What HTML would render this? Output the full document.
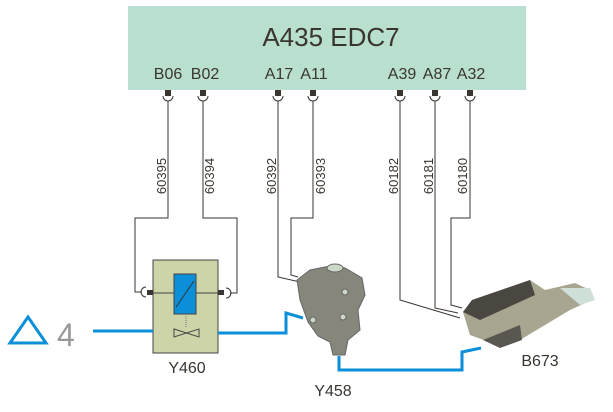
<!DOCTYPE html>
<html><head><meta charset="utf-8"><style>
html,body{margin:0;padding:0;background:#fff;}
svg{display:block;font-family:"Liberation Sans",sans-serif;}
</style></head><body>
<svg width="613" height="412" viewBox="0 0 613 412" xmlns="http://www.w3.org/2000/svg">
<rect x="128" y="6" width="398" height="84" fill="#b9dfcf"/>
<text x="331" y="46" font-size="26" fill="#3a3530" text-anchor="middle">A435 EDC7</text>
<g font-size="16" fill="#3a3530" text-anchor="middle">
<text x="168" y="79">B06</text><text x="205" y="79">B02</text>
<text x="279" y="79">A17</text><text x="314" y="79">A11</text>
<text x="402" y="79">A39</text><text x="437" y="79">A87</text><text x="471" y="79">A32</text>
</g>
<g fill="#3a3530">
<rect x="165" y="90" width="6" height="6"/><rect x="200" y="90" width="6" height="6"/>
<rect x="275" y="90" width="6" height="6"/><rect x="310" y="90" width="6" height="6"/>
<rect x="397" y="90" width="6" height="6"/><rect x="432" y="90" width="6" height="6"/>
<rect x="467" y="90" width="6" height="6"/>
</g>
<g fill="none" stroke="#3a3530" stroke-width="1">
<path d="M163,96 a5,5 0 0 0 10,0"/><path d="M198,96 a5,5 0 0 0 10,0"/>
<path d="M273,96 a5,5 0 0 0 10,0"/><path d="M308,96 a5,5 0 0 0 10,0"/>
<path d="M395,96 a5,5 0 0 0 10,0"/><path d="M430,96 a5,5 0 0 0 10,0"/>
<path d="M465,96 a5,5 0 0 0 10,0"/>
<path d="M168,101 V218 H135 V292 H142"/>
<path d="M203,101 V218 H237 V293 H230"/>
<path d="M278,101 V277 L300,282"/>
<path d="M313,101 V218 H291 V275 L298,277"/>
<path d="M400,101 V300 L460,318"/>
<path d="M435,101 V308 L458,313"/>
<path d="M470,101 V218 H451 V305 L462,308"/>
<path d="M146,287 a5,5 0 0 0 0,10"/><path d="M226,288 a5,5 0 0 1 0,10"/>
</g>
<g font-size="13" fill="#3a3530">
<text transform="translate(166,176) rotate(-90)" text-anchor="middle">60395</text>
<text transform="translate(214,176) rotate(-90)" text-anchor="middle">60394</text>
<text transform="translate(276,176) rotate(-90)" text-anchor="middle">60392</text>
<text transform="translate(325,176) rotate(-90)" text-anchor="middle">60393</text>
<text transform="translate(398,176) rotate(-90)" text-anchor="middle">60182</text>
<text transform="translate(433,176) rotate(-90)" text-anchor="middle">60181</text>
<text transform="translate(467,176) rotate(-90)" text-anchor="middle">60180</text>
</g>
<!-- Y460 -->
<rect x="153" y="260" width="65" height="93" fill="#ccd4a8" stroke="#444" stroke-width="1"/>
<rect x="147" y="290" width="6" height="5" fill="#3a3530"/><rect x="218" y="290" width="6" height="5" fill="#3a3530"/>
<line x1="153" y1="293" x2="218" y2="293" stroke="#444"/>
<rect x="174" y="274" width="22" height="40" fill="#0a8fd8" stroke="#444"/>
<line x1="176" y1="307" x2="194" y2="281" stroke="#333"/>
<line x1="186" y1="314" x2="186" y2="327" stroke="#777" stroke-dasharray="1,1"/>
<path d="M174,329 L199,337 V329 L174,337 Z" fill="none" stroke="#444"/>
<!-- pipes -->
<g fill="none" stroke="#0a8fd8" stroke-width="3">
<path d="M93,331 H153"/>
<path d="M218,333 H286 V313 L303,318"/>
<path d="M339,356 V370 H462 V352 L481,348"/>
<path d="M10,343 L28,317 L46,343 Z"/>
</g>
<text x="57" y="346" font-size="32" fill="#999">4</text>
<!-- Y458 valve -->
<g fill="#86867a" stroke="#666" stroke-width="1">
<path d="M297,280 L310,270 L330,266 L345,268 L362,278 L365,295 L358,310 L360,330 L348,340 L345,355 L333,355 L330,342 L318,336 L308,322 L300,300 Z"/>
<ellipse cx="335" cy="268" rx="8" ry="4" fill="#cbd8c8"/>
<circle cx="345" cy="292" r="3" fill="#cbd8c8"/><circle cx="343" cy="317" r="3" fill="#cbd8c8"/>
<circle cx="313" cy="320" r="3" fill="#cbd8c8"/>
</g>
<!-- B673 sensor -->
<path d="M463,312 L472,300 L530,280 L545,290 L575,283 L590,290 L592,300 L570,310 L520,340 L500,346 L470,335 Z" fill="#a8a690"/>
<path d="M463,312 L472,300 L530,280 L535,295 L480,320 Z" fill="#4a4640"/>
<path d="M483,340 L520,325 L522,340 L500,348 Z" fill="#5a5650"/>
<path d="M560,288 L590,288 L595,300 L580,305 Z" fill="#cfe0d8"/>
<g font-size="16" fill="#3a3530" text-anchor="middle">
<text x="187" y="373">Y460</text>
<text x="333" y="396">Y458</text>
<text x="540" y="366">B673</text>
</g>
</svg>
</body></html>
